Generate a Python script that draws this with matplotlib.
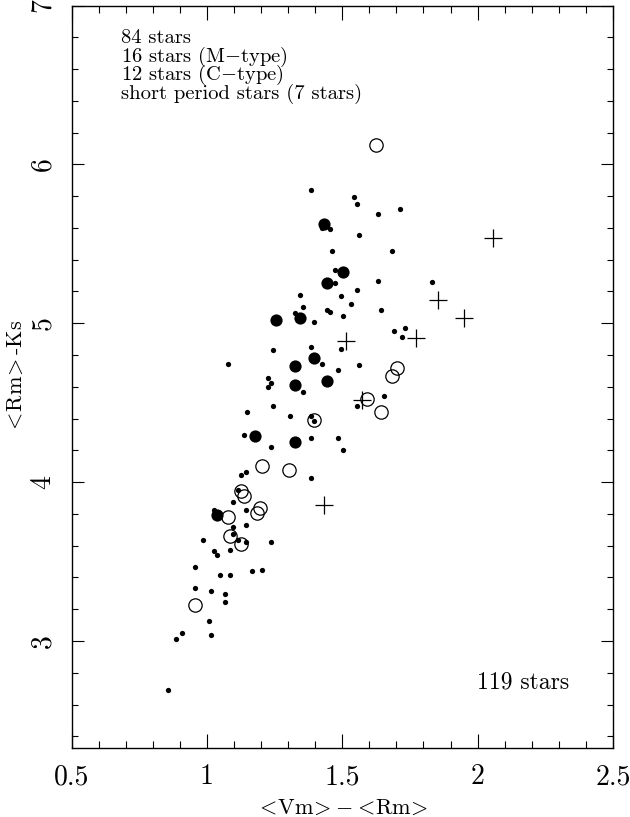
import matplotlib
matplotlib.use("Agg")
import matplotlib.pyplot as plt
from matplotlib.ticker import MultipleLocator, FixedLocator, FuncFormatter

plt.rcParams['font.family'] = ['cmr10']
plt.rcParams['mathtext.fontset'] = 'cm'
plt.rcParams['axes.unicode_minus'] = False
plt.rcParams['axes.formatter.use_mathtext'] = True

# <Vm>-<Rm> and <Rm>-Ks colours of the sample
dots_x = [1.386, 1.543, 1.553, 1.633, 1.712, 1.424, 1.455, 1.561, 1.463, 1.684,
          1.475, 1.475, 1.633, 1.833, 1.345, 1.494, 1.553, 1.355, 1.533, 1.444,
          1.455, 1.504, 1.642, 1.326, 1.396, 1.692, 1.732, 1.722, 1.495, 1.245,
          1.386, 1.077, 1.425, 1.563, 1.485, 1.226, 1.236, 1.226, 1.356, 1.653,
          1.553, 1.245, 1.147, 1.306, 1.386, 1.396, 1.137, 1.386, 1.485, 1.236,
          1.504, 1.146, 1.125, 1.386, 1.114, 1.097, 1.146, 1.026, 1.096, 1.146,
          1.097, 0.987, 1.116, 1.146, 1.236, 1.026, 1.036, 1.087, 0.956, 1.047,
          1.087, 1.167, 1.205, 0.956, 1.016, 1.066, 1.066, 1.007, 0.907, 0.887,
          1.016, 0.856]
dots_y = [5.836, 5.797, 5.753, 5.690, 5.717, 5.597, 5.594, 5.553, 5.455, 5.455,
          5.335, 5.254, 5.267, 5.262, 5.179, 5.174, 5.208, 5.105, 5.119, 5.084,
          5.072, 5.044, 5.085, 5.064, 5.006, 4.952, 4.972, 4.915, 4.841, 4.833,
          4.850, 4.745, 4.742, 4.736, 4.703, 4.657, 4.625, 4.600, 4.570, 4.540,
          4.481, 4.481, 4.440, 4.415, 4.419, 4.384, 4.296, 4.279, 4.279, 4.223,
          4.201, 4.065, 4.044, 4.025, 3.948, 3.875, 3.822, 3.823, 3.720, 3.728,
          3.672, 3.638, 3.635, 3.626, 3.623, 3.567, 3.541, 3.575, 3.468, 3.418,
          3.415, 3.443, 3.445, 3.331, 3.314, 3.297, 3.243, 3.124, 3.050, 3.011,
          3.040, 2.690]

# M-type stars (open circles)
mtype_x = [1.624, 1.703, 1.682, 1.593, 1.643, 1.395, 1.205, 1.304, 1.125, 1.136,
           1.196, 1.186, 1.077, 1.086, 1.126, 0.957]
mtype_y = [6.122, 4.721, 4.669, 4.526, 4.440, 4.394, 4.103, 4.078, 3.942, 3.916,
           3.838, 3.805, 3.782, 3.660, 3.613, 3.229]

# C-type stars (large filled circles)
ctype_x = [1.433, 1.504, 1.444, 1.345, 1.255, 1.395, 1.326, 1.326, 1.444, 1.176,
           1.326, 1.036]
ctype_y = [5.627, 5.320, 5.256, 5.033, 5.022, 4.782, 4.730, 4.614, 4.638, 4.291,
           4.252, 3.792]

# short period stars (plus signs)
short_x = [2.058, 1.852, 1.951, 1.773, 1.514, 1.572, 1.434]
short_y = [5.537, 5.149, 5.036, 4.908, 4.886, 4.515, 3.858]

legend_lines = ["84 stars", "16 stars (M$-$type)", "12 stars (C$-$type)",
                "short period stars (7 stars)"]
total_label = "119 stars"

fig = plt.figure(figsize=(6.3, 8.17), dpi=100)
ax = fig.add_axes([71.5 / 630, (817 - 747.5) / 817, 541.5 / 630, 742 / 817])

ax.plot(dots_x, dots_y, 'o', color='black', ms=3.8, mew=0)
ax.plot(ctype_x, ctype_y, 'o', color='black', ms=8.8, mew=0)
ax.plot(mtype_x, mtype_y, 'o', mfc='none', mec='black', ms=9.6, mew=0.9)
ax.plot(short_x, short_y, '+', color='black', ms=12.5, mew=0.9)

ax.set_xlim(0.5, 2.5)
ax.set_ylim(2.33, 7.0)

ax.xaxis.set_major_locator(FixedLocator([0.5, 1.0, 1.5, 2.0, 2.5]))
ax.xaxis.set_minor_locator(MultipleLocator(0.1))
ax.yaxis.set_major_locator(FixedLocator([3, 4, 5, 6, 7]))
ax.yaxis.set_minor_locator(MultipleLocator(0.2))
fmt = FuncFormatter(lambda v, p: "%g" % v)
ax.xaxis.set_major_formatter(fmt)
ax.yaxis.set_major_formatter(fmt)

ax.tick_params(which='both', direction='in', top=True, right=True,
               width=0.8, labelsize=20)
ax.tick_params(axis='x', which='major', length=10, pad=12)
ax.tick_params(axis='x', which='minor', length=4.7)
ax.tick_params(axis='y', which='major', length=8.4, pad=11)
ax.tick_params(axis='y', which='minor', length=4.1)
for lab in ax.get_yticklabels():
    lab.set_rotation(90)
    lab.set_va('center')

for sp in ax.spines.values():
    sp.set_linewidth(1.0)

ax.set_xlabel(r'$<\!\mathrm{Vm}\!>\!-\!<\!\mathrm{Rm}\!>$',
              fontsize=16, labelpad=6)
ax.set_ylabel(r'$<\!\mathrm{Rm}\!>$-Ks', fontsize=16, labelpad=3)

base_y = [0.9495, 0.9240, 0.8995, 0.8740]
for txt, yy in zip(legend_lines, base_y):
    ax.text(0.0914, yy, txt, transform=ax.transAxes, fontsize=14.8,
            ha='left', va='baseline')
ax.text(0.749, 0.080, total_label, transform=ax.transAxes, fontsize=17,
        ha='left', va='baseline')

fig.savefig('out.png', dpi=100)
